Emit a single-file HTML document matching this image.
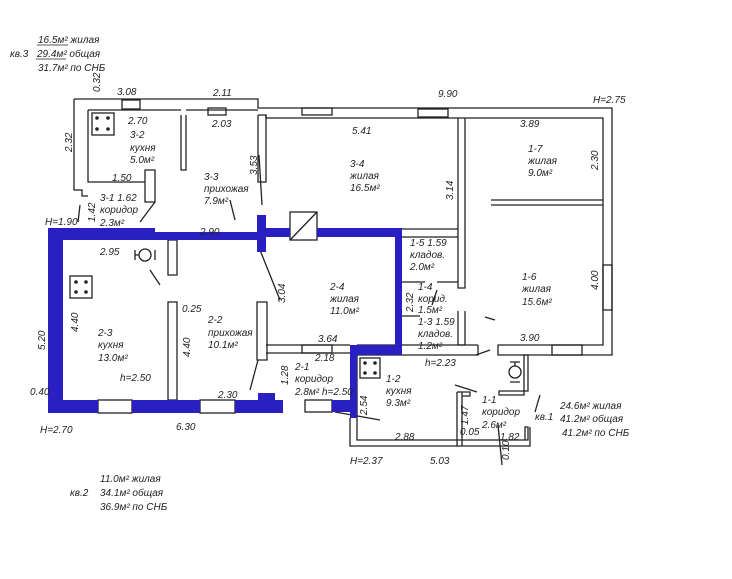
<!DOCTYPE html>
<html><head><meta charset="utf-8"><style>
html,body{margin:0;padding:0;background:#fff;}
svg{display:block}
text{font-family:"Liberation Sans",sans-serif;font-style:italic;font-size:10px;fill:#222}
</style></head><body>
<svg width="732" height="579" viewBox="0 0 732 579" xmlns="http://www.w3.org/2000/svg">
<g fill="none" stroke="#222" stroke-width="1.3">
<path d="M74 99 H258 V108 H612 V355 H498 V345 H603 V118 H266 V115 H258"/>
<path d="M74 99 V190 H82 V196 H88"/>
<path d="M88 110 H181 M186 110 H258 M88 110 V182 H145 M145 170 H155 V202 H145 Z"/>
<rect x="122" y="100" width="18" height="9"/>
<rect x="208" y="108" width="18" height="7"/>
<rect x="302" y="108" width="30" height="7"/>
<rect x="418" y="109" width="30" height="8"/>
<path d="M181 115 V170 H186 V115"/>
<path d="M258 115 V182 H266 V115"/>
<path d="M458 118 V288 H465 V118"/>
<path d="M458 311 V345 H465 V311"/>
<path d="M491 200 H603 M491 205 H603"/>
<path d="M402 229 H458 M402 237 H458"/>
<path d="M402 282 H425 M437 282 H458 M402 316 H420"/>
<path d="M357 345 H478 M357 355 H478 V345"/>
<path d="M266 345 H350 M266 353 H350"/>
<rect x="302" y="345" width="30" height="8"/>
<path d="M257 302 H267 V360 H257 Z"/>
<path d="M168 240 H177 V275 H168 Z"/>
<path d="M168 302 H177 V400 H168 Z"/>
<path d="M357 355 V440 H528 V427 H525 V440 M350 418 V446 H530 V427"/>
<path d="M457 392 H462 V446 M457 392 V446 M462 396 H470 V392 H457"/>
<path d="M499 391 H528 V355 H524 V395 H499 Z"/>
<rect x="603" y="265" width="9" height="45"/>
<rect x="552" y="345" width="30" height="10"/>
<rect x="98" y="400" width="34" height="13"/>
<rect x="200" y="400" width="35" height="13"/>
<rect x="305" y="400" width="27" height="12"/>
<path d="M259 155 L262 205 M260 250 L280 300 M258 360 L250 390 M155 202 L140 222 M80 205 L78 222 M160 285 L150 270 M437 290 L432 305 M476 355 L490 350 M477 392 L455 385 M230 200 L235 220 M335 412 L380 420 M485 317 L495 320 M540 395 L535 412 M498 425 L502 465"/>
<rect x="290" y="212" width="27" height="28"/>
<path d="M290 240 L317 212"/>
<rect x="92" y="113" width="22" height="22"/>
<rect x="70" y="276" width="22" height="22"/>
<rect x="360" y="358" width="20" height="20"/>
<circle cx="145" cy="255" r="6"/><path d="M135 250 V260 M135 255 H139 M155 250 V260"/>
<circle cx="515" cy="372" r="6"/><path d="M510 362 H520 M515 362 V366 M510 382 H520"/>
</g>
<g fill="#222">
<circle cx="97" cy="118" r="1.8"/><circle cx="108" cy="118" r="1.8"/><circle cx="97" cy="129" r="1.8"/><circle cx="108" cy="129" r="1.8"/>
<circle cx="76" cy="282" r="1.8"/><circle cx="86" cy="282" r="1.8"/><circle cx="76" cy="292" r="1.8"/><circle cx="86" cy="292" r="1.8"/>
<circle cx="365" cy="363" r="1.8"/><circle cx="375" cy="363" r="1.8"/><circle cx="365" cy="373" r="1.8"/><circle cx="375" cy="373" r="1.8"/>
</g>
<g fill="#2a1fc0">
<rect x="48" y="228" width="15" height="185"/>
<rect x="48" y="228" width="107" height="12"/>
<rect x="155" y="232" width="103" height="8"/>
<rect x="257" y="215" width="9" height="37"/>
<rect x="266" y="228" width="24" height="9"/>
<rect x="317" y="228" width="85" height="9"/>
<rect x="395" y="228" width="7" height="125"/>
<rect x="350" y="345" width="52" height="10"/>
<rect x="350" y="345" width="7" height="73"/>
<rect x="48" y="400" width="50" height="13"/>
<rect x="132" y="400" width="68" height="13"/>
<rect x="235" y="400" width="48" height="13"/>
<rect x="258" y="393" width="17" height="8"/>
<rect x="332" y="400" width="18" height="12"/>
</g>
<text x="38" y="43">16.5м² жилая</text>
<text x="10" y="57">кв.3</text><text x="37" y="57">29.4м² общая</text>
<text x="38" y="71">31.7м² по СНБ</text>
<path d="M37 45 H68 M36 59 H66" stroke="#222" stroke-width="0.8"/>
<text x="117" y="95">3.08</text><text x="213" y="96">2.11</text>
<text x="438" y="97">9.90</text><text x="593" y="103">H=2.75</text>
<text x="128" y="124">2.70</text><text x="212" y="127">2.03</text>
<text x="352" y="134">5.41</text><text x="520" y="127">3.89</text>
<text x="130" y="138">3-2</text><text x="130" y="151">кухня</text><text x="130" y="163">5.0м²</text>
<text x="204" y="180">3-3</text><text x="204" y="192">прихожая</text><text x="204" y="204">7.9м²</text>
<text x="350" y="167">3-4</text><text x="350" y="179">жилая</text><text x="350" y="191">16.5м²</text>
<text x="528" y="152">1-7</text><text x="528" y="164">жилая</text><text x="528" y="176">9.0м²</text>
<text x="112" y="181">1.50</text>
<text x="100" y="201">3-1 1.62</text><text x="100" y="213">коридор</text><text x="100" y="226">2.3м²</text>
<text x="45" y="225">H=1.90</text>
<text x="200" y="235">2.90</text>
<text x="100" y="255">2.95</text>
<text x="410" y="246">1-5  1.59</text><text x="410" y="258">кладов.</text><text x="410" y="270">2.0м²</text>
<text x="418" y="290">1-4</text><text x="418" y="302">корид.</text><text x="418" y="313">1.5м²</text>
<text x="418" y="325">1-3  1.59</text><text x="418" y="337">кладов.</text><text x="418" y="349">1.2м²</text>
<text x="330" y="290">2-4</text><text x="330" y="302">жилая</text><text x="330" y="314">11.0м²</text>
<text x="522" y="280">1-6</text><text x="522" y="292">жилая</text><text x="522" y="305">15.6м²</text>
<text x="182" y="312">0.25</text>
<text x="208" y="323">2-2</text><text x="208" y="336">прихожая</text><text x="208" y="348">10.1м²</text>
<text x="98" y="336">2-3</text><text x="98" y="348">кухня</text><text x="98" y="361">13.0м²</text>
<text x="120" y="381">h=2.50</text>
<text x="318" y="342">3.64</text><text x="520" y="341">3.90</text>
<text x="315" y="361">2.18</text><text x="425" y="366">h=2.23</text>
<text x="295" y="370">2-1</text><text x="295" y="382">коридор</text><text x="295" y="395">2.8м²</text><text x="322" y="395">h=2.50</text>
<text x="386" y="382">1-2</text><text x="386" y="394">кухня</text><text x="386" y="406">9.3м²</text>
<text x="218" y="398">2.30</text><text x="30" y="395">0.40</text>
<text x="482" y="403">1-1</text><text x="482" y="415">коридор</text><text x="482" y="428">2.6м²</text>
<text x="535" y="420">кв.1</text>
<text x="560" y="409">24.6м² жилая</text><text x="560" y="422">41.2м² общая</text><text x="562" y="436">41.2м² по СНБ</text>
<text x="460" y="435">0.05</text><text x="500" y="440">1.82</text>
<text x="395" y="440">2.88</text>
<text x="40" y="433">H=2.70</text><text x="176" y="430">6.30</text>
<text x="350" y="464">H=2.37</text><text x="430" y="464">5.03</text>
<text x="100" y="482">11.0м² жилая</text><text x="70" y="496">кв.2</text><text x="100" y="496">34.1м² общая</text><text x="100" y="510">36.9м² по СНБ</text>
<g font-size="10">
<text transform="translate(100,92) rotate(-90)">0.32</text>
<text transform="translate(72,152) rotate(-90)">2.32</text>
<text transform="translate(95,222) rotate(-90)">1.42</text>
<text transform="translate(257,175) rotate(-90)">3.53</text>
<text transform="translate(453,200) rotate(-90)">3.14</text>
<text transform="translate(598,170) rotate(-90)">2.30</text>
<text transform="translate(598,290) rotate(-90)">4.00</text>
<text transform="translate(45,350) rotate(-90)">5.20</text>
<text transform="translate(78,332) rotate(-90)">4.40</text>
<text transform="translate(190,357) rotate(-90)">4.40</text>
<text transform="translate(285,303) rotate(-90)">3.04</text>
<text transform="translate(413,312) rotate(-90)">2.32</text>
<text transform="translate(288,385) rotate(-90)">1.28</text>
<text transform="translate(367,415) rotate(-90)">2.54</text>
<text transform="translate(468,425) rotate(-90)">1.47</text>
<text transform="translate(509,460) rotate(-90)">0.10</text>
</g>
</svg>
</body></html>
